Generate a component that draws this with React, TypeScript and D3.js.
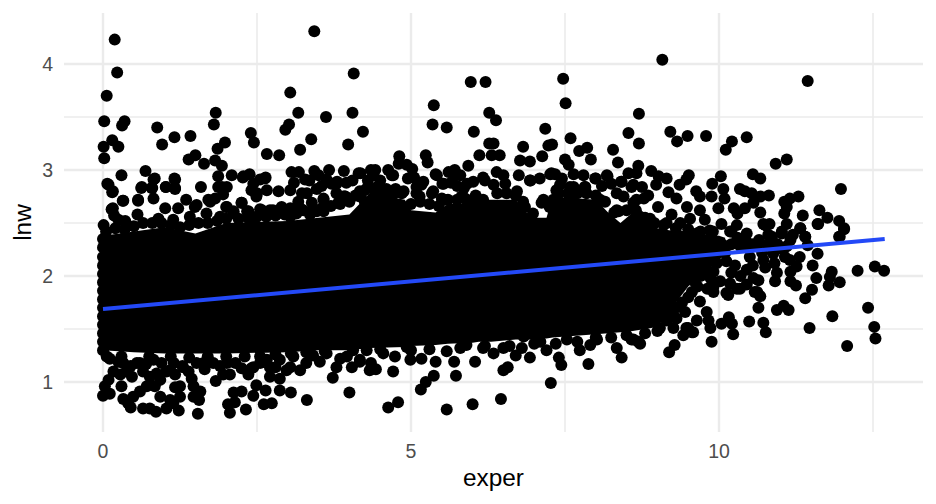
import React from "react";
import * as d3 from "d3";

const W = 936, H = 504;
const xTicks = [0, 5, 10];
const xMinor = [2.5, 7.5, 12.5];
const yTicks = [1, 2, 3, 4];
const yMinor = [1.5, 2.5, 3.5];

const fitX = [0, 12.69];
const fitY = [1.689, 2.349];

// Saturated core of the cloud: individual points cannot be read there
const coreX = [0,.5,1,1.5,2,3,3.5,4,4.33,4.9,5,5.4,5.6,6,6.1,6.3,6.7,6.95,7.2,7.3,8,8.2,8.4,8.6,9,9.5,10,10.1];
const coreTop = [2.38,2.42,2.46,2.4,2.5,2.52,2.55,2.58,2.78,2.72,2.62,2.6,2.68,2.68,2.72,2.72,2.72,2.55,2.55,2.75,2.72,2.6,2.5,2.6,2.45,2.4,2.38,2.36];
const coreBottom = [1.3,1.28,1.27,1.27,1.27,1.28,1.3,1.3,1.32,1.33,1.34,1.35,1.36,1.37,1.38,1.38,1.4,1.4,1.41,1.42,1.45,1.46,1.47,1.48,1.52,1.9,2.15,2.2];

const edgeZero: [number, number][] = [[0,1.3],[0,1.38],[0,1.46],[0,1.54],[0,1.62],[0,1.7],[0,1.78],[0,1.86],[0,1.94],[0,2.02],[0,2.1],[0,2.18],[0,2.27],[0,2.35]];

const coreEdgeTop: [number, number][] = [[.05,2.42],[.2,2.45],[.35,2.44],[.5,2.47],[.65,2.5],[.8,2.5],[.95,2.5],[1.1,2.48],[1.25,2.46],[1.4,2.48],[1.55,2.5],[1.7,2.5],[1.85,2.52],[2,2.54],[2.2,2.54],[2.35,2.55],[2.5,2.56],[2.65,2.56],[2.8,2.57],[2.95,2.58],[3.1,2.6],[3.25,2.62],[3.4,2.62],[3.55,2.64],[3.7,2.66],[3.85,2.68],[4,2.7],[4.1,2.76],[4.3,2.84],[4.45,2.84],[4.6,2.82],[4.75,2.82],[4.85,2.78],[5,2.68],[5.15,2.7],[5.3,2.68],[5.45,2.66],[5.6,2.72],[5.75,2.72],[5.9,2.72],[6.05,2.76],[6.4,2.78],[6.55,2.78],[6.7,2.76],[6.85,2.65],[7.25,2.65],[7.4,2.78],[7.55,2.78],[7.7,2.78],[7.85,2.78],[8,2.76],[8.15,2.7],[8.3,2.6],[8.5,2.62],[8.65,2.62],[8.8,2.55],[8.95,2.5],[9.1,2.48],[9.3,2.45],[9.5,2.44],[9.7,2.42],[9.9,2.42]];

const coreEdgeBottom: [number, number][] = [[.3,1.24],[.75,1.24],[1.1,1.24],[1.4,1.23],[1.7,1.24],[2,1.24],[2.3,1.24],[2.55,1.24],[2.8,1.26],[3.05,1.27],[3.3,1.28],[3.6,1.29],[4.5,1.31],[5,1.3],[5.3,1.31],[5.8,1.32],[6.2,1.34],[6.6,1.34],[7,1.36],[7.35,1.36],[7.7,1.38],[8,1.42],[8.25,1.42],[8.5,1.44],[8.8,1.46],[9,1.48]];

const upperLeft: [number, number][] = [[.19,4.23],[.23,3.92],[.06,3.7],[.02,3.46],[.35,3.46],[.31,3.42],[.88,3.4],[1.16,3.31],[1.42,3.32],[.96,3.24],[.15,3.28],[.01,3.22],[.25,3.22],[.02,3.11],[1.83,3.54],[1.8,3.43],[1.98,3.26],[1.86,3.2],[1.5,3.14],[1.39,3.1],[1.64,3.06],[1.82,3.09],[1.93,3.04],[2.4,3.35],[2.45,3.26],[2.66,3.15],[2.86,3.14],[3.43,4.31],[3.04,3.73],[3.17,3.54],[3.02,3.43],[2.96,3.38],[3.62,3.5],[3.38,3.29],[3.2,3.19],[4.07,3.91],[4.05,3.54],[3.98,3.24],[4.22,3.36],
[.3,2.95],[.69,2.99],[.07,2.87],[.15,2.79],[.84,2.92],[.62,2.83],[.79,2.83],[.82,2.73],[1.16,2.92],[1.02,2.84],[1.17,2.82],[1.59,2.84],[.57,2.71],[.32,2.71],[.14,2.63],[.56,2.58],[.18,2.57],[.36,2.52],[.01,2.48],[1.01,2.64],[1.22,2.64],[1.35,2.72],[1.49,2.65],[1.74,2.7],[1.87,2.94],[2.09,2.95],[2.27,2.93],[2.38,2.96],[2.64,2.93],[2.55,2.91],[1.87,2.84],[2.01,2.84],[1.95,2.77],[2.41,2.81],[2.49,2.75],[2.66,2.81],[2.85,2.8],[3.04,2.81],[2.25,2.69],[2,2.65],[2.12,2.61],[2.34,2.61],[2.55,2.63],[2.71,2.62],[2.87,2.62],[3.06,2.98],[3.18,2.98],[3.43,2.99],[3.5,2.95],[3.67,3],[3.91,2.99],[3.28,2.91],[3.63,2.91],[3.8,2.89],[3.47,2.82],[3.71,2.87],[3.23,2.78],[3.58,2.73],[3.79,2.78],[3.93,2.75],[3.85,2.69],[3.2,2.64],[3.47,2.61],[4.15,2.97],[4.17,2.8]];

const bandLeft: [number, number][] = [[.09,2.86],[.16,2.8],[.33,2.71],[.16,2.64],[.25,2.53],[.57,2.72],[.36,2.51],[.63,2.84],[.82,2.91],[.8,2.83],[1.02,2.84],[1.17,2.91],[1.17,2.83],[.9,2.54],[1.14,2.53],[1.41,2.56],[1.52,2.67],[1.71,2.72],[1.68,2.59],[1.93,2.84],[1.82,2.73],[2.01,2.65],[2.12,2.59],[2.25,2.69],[2.36,2.61],[2.28,2.94],[2.44,2.87],[2.5,2.78],[2.63,2.92],[2.58,2.62],[2.76,2.62],[2.9,2.65],[3.04,2.64],[3.31,2.78],[3.17,2.7],[3.39,2.69],[3.58,2.72],[3.79,2.87],[3.93,2.75],[3.82,2.69],[4.25,2.7],[4.2,2.59],[3.14,2.59],[3.36,2.58],[3.58,2.61],[3.04,2.56],[2.39,2.53],[1.9,2.56],
[3.1,2.88],[3.35,2.9],[3.55,2.85],[3.95,2.88],[4.05,2.9]];

const upperMiddle: [number, number][] = [[4.18,2.97],[4.35,3],[4.42,3],[4.39,2.95],[4.63,3],[4.71,2.95],[4.81,3.13],[4.8,3.06],[4.93,3.05],[5.02,3.01],[5.24,3.14],[5.27,3.07],[5.4,2.96],[5.61,2.98],[5.71,3],[5.8,2.95],[5.93,3.04],[5.97,3.83],[6.21,3.83],[5.37,3.61],[5.35,3.43],[5.58,3.4],[6.02,3.36],[6.27,3.54],[6.38,3.47],[6.27,3.25],[6.34,3.25],[6.11,3.14],[6.31,3.14],[6.44,3.14],[6.39,2.98],[6.17,2.93],[6.01,2.89],[5.86,2.83],[6.82,3.22],[6.77,3.09],[6.93,3.08],[7.13,3.13],[7.18,3.39],[7.23,3.23],[7.29,3.24],[7.47,3.86],[7.51,3.63],[7.59,3.3],[7.5,3.1],[7.56,3.05],[7.73,3.18],[7.86,3.21],[7.92,3.1],[8.28,3.19],[8.36,3.07],[8.53,3.35],[8.7,3.53],[8.7,3.25],[8.69,3.04],
[6.94,2.9],[7.09,2.92],[7.26,2.96],[7.34,2.96],[7.64,2.96],[7.99,2.92],[8.18,2.95],[8.53,2.97],[8.41,2.89],[7.42,2.86],[7.64,2.84],[7.82,2.84],[8.61,2.86],[5.2,2.89],[5.09,2.84],[5.51,2.87],[4.25,2.81],[4.88,2.8],[4.71,2.77],[4.55,2.77],[4.42,2.77],[4.17,2.75],[3.9,2.75],[5.14,2.75],[5.36,2.8],[5.55,2.72],[5.88,2.73],[6.17,2.72],[6.34,2.86],[6.53,2.87],[6.72,2.8],[6.82,2.7],[6.98,2.59],[7.12,2.69],[7.31,2.72],[7.58,2.73],[8.07,2.72],[8.34,2.62],[8.45,2.75],[8.61,2.69]];

const bandMiddle: [number, number][] = [[4.69,2.95],[5.17,2.86],[5.09,2.78],[5.34,2.78],[5.5,2.73],[5.42,2.95],[5.53,2.87],[5.72,2.95],[5.91,2.87],[5.82,2.75],[6.2,2.9],[6.93,2.9],[7.28,2.97],[7.15,2.72],[7.36,2.81],[7.58,2.84],[7.83,2.84],[8,2.92],[8.19,2.94],[8.42,2.89],[8.34,2.78],[8.37,2.61],[8.78,2.73],[8.75,2.84],[6,2.7],
[4.5,2.9],[4.3,2.9],[4.95,2.92],[5.05,2.93],[5.65,2.88],[5.75,2.85],[6.5,2.95],[6.75,2.95],[7.45,2.92],[7.8,2.95],[8.1,2.85],[8.25,2.87]];

const upperRight: [number, number][] = [[9.08,4.04],[11.44,3.84],[9.21,3.36],[9.32,3.27],[9.49,3.32],[9.79,3.32],[10.21,3.27],[10.11,3.19],[10.45,3.31],[11.1,3.1],[10.92,3.06],[8.66,2.97],[8.9,2.99],[9.02,2.94],[9.15,2.92],[8.98,2.86],[9.51,2.95],[9.47,2.91],[9.36,2.86],[9.18,2.79],[9.31,2.73],[9.63,2.8],[9.69,2.75],[9.89,2.87],[10.03,2.94],[10.07,2.82],[10.09,2.73],[9.88,2.75],[9.99,2.64],[10.34,2.82],[10.42,2.8],[10.53,2.78],[10.55,2.96],[10.67,2.92],[10.81,2.76],[10.67,2.75],[10.56,2.69],[10.42,2.64],[10.24,2.64],[10.3,2.59],[10.67,2.6],[11.29,2.75],[11.15,2.73],[11.06,2.7],[11.1,2.65],[11.06,2.59],[11.36,2.57],[11.63,2.62],[11.76,2.55],[11.6,2.49],[11.98,2.82],[11.95,2.52],[12.03,2.45],[11.95,2.37],[10.72,2.49],[10.82,2.49],[11.1,2.49],[11.32,2.45],[10.8,2.39],[11.02,2.42],[11.4,2.37],[11.2,2.39],[8.85,2.76],[8.72,2.56],[9.01,2.65],[8.88,2.54],[9.23,2.58],[9.48,2.65],[9.69,2.62],[9.53,2.54],[9.77,2.53],[9.37,2.5],[9.15,2.5],[10.04,2.49],[10.29,2.48],[10.45,2.4],[10.18,2.42],[9.85,2.43],[9.64,2.4],[9.39,2.37],[8.66,2.72],[8.58,2.84]];

const lowerRight: [number, number][] = [[12.53,2.09],[12.68,2.05],[12.25,2.05],[11.83,2.04],[11.8,1.99],[11.96,1.94],[11.78,1.91],[11.58,1.98],[11.51,1.87],[11.4,1.79],[11.52,2.1],[11.6,2.21],[11.31,2.18],[11.26,2.09],[11.16,2.04],[11.07,2.18],[10.94,2.03],[10.91,1.95],[11.16,1.95],[11.25,1.91],[10.64,1.96],[10.56,1.98],[10.58,1.85],[10.67,1.81],[10.64,1.7],[10.94,1.68],[11.05,1.72],[11.13,1.68],[12.42,1.7],[11.84,1.62],[12.52,1.52],[12.54,1.41],[12.08,1.34],[11.47,1.51],[10.72,1.56],[10.76,1.47],[10.49,1.57],[10.16,1.61],[10.21,1.55],[10.04,1.55],[10.23,1.45],[9.88,1.38],[9.86,1.51],[9.83,1.58],[9.8,1.66],[9.64,1.58],[9.69,1.76],[9.45,1.66],[9.5,1.51],[9.56,1.47],[9.42,1.44],[9.28,1.35],[9.19,1.28],[9.26,1.51],[9.04,1.51],[8.69,1.38],[8.58,1.4],[10.29,1.88],[10.15,1.82],[9.91,1.85],[9.81,1.88],[9.56,1.85],[9.96,2.12],[10.12,2.14],[10.26,2.1],[10.45,2.06],[10.72,2.15],[10.88,2.21],[11.04,2.25],[11.44,2.29],[11.16,2.34],[9.91,2.04],[9.8,2.06],[10.18,1.93],[10.02,1.95],[9.86,1.98],[10.75,2.48],[10.86,2.37],[11.02,2.4],[11.32,2.45],[11.4,2.37],[11.61,2.49],[11.96,2.37],[12.03,2.44],
[10.05,2.3],[10.2,2.3],[10.35,2.28],[10.5,2.28],[10.65,2.28],[10.8,2.3],[10.95,2.3],[11.1,2.28],[10.1,2.22],[10.5,2.18],[10.7,2.22],[10.9,2.12],[11.15,2.15],[10.35,2],[10.55,2.1],[10.2,2.03],[10.75,2.08],[10.45,1.92],[9.6,1.95],[9.7,2],[9.5,1.8],[9.65,1.9],[9.4,1.75],[9.3,1.7],[9.2,1.65],[10.2,2.42],[10.3,2.36],[10.45,2.32],[10.55,2.3],[10.65,2.34]];

const lowerLeft: [number, number][] = [[0,.87],[.11,.89],[.03,.96],[.09,1.02],[.3,.96],[.33,.84],[.41,.8],[.45,.76],[.65,.75],[.76,.75],[.86,.72],[1.03,.75],[1.23,.73],[1.14,.8],[1.54,.7],[1.56,.83],[1.47,.86],[1.58,.91],[.93,.86],[1.09,.83],[1.25,.86],[.49,.86],[.6,.91],[.71,.96],[.84,.96],[1.17,.95],[1.25,.96],[1.47,.96],[1.44,1.03],[1.39,1.1],[1.29,1.15],[1.17,1.07],[1.03,1.1],[.87,1.08],[.76,1.05],[.93,1.02],[.28,1.07],[.47,1.05],[.17,1.1],[.06,1.24],[.25,1.19],[.55,1.18],[.82,1.21],[1.83,1.01],[1.95,1.07],[2.06,1.07],[2.12,.9],[2.25,.91],[2.03,.79],[2.06,.71],[2.14,.81],[2.32,.74],[2.44,.87],[2.49,.97],[2.64,.92],[2.61,.79],[2.74,.8],[2.36,1.07],[2.25,1.13],[2.41,1.13],[2.71,1.05],[2.71,1.14],[2.87,1.03],[2.87,.92],[3.05,.9],[3.31,.83],[2.98,1.11],[3.2,1.11],[3.73,1.04],[4,.9],[4.04,1.14],[3.79,1.14],[1.63,1.18],[2.01,1.18],[2.66,1.21],[2.87,1.21],[3.09,1.24],[3.41,1.25],[3.63,1.27],[3.96,1.24],[4.06,1.3],[3.85,1.22],[4.17,1.19],
[.11,1.22],[.33,1.18],[.6,1.18],[1.09,1.11],[1.3,1.14],[1.52,1.18],[1.79,1.18],[2.44,1.14],[3.04,1.14],[3.52,1.19],
[.45,1.15],[.7,1.17],[.95,1.18],[1.15,1.18],[1.65,1.12],[1.9,1.15],[2.15,1.18],[2.55,1.18],[2.8,1.14],[3.3,1.18],[.38,1.1],[.65,1.1]];

const lowerMiddle: [number, number][] = [[4.17,1.21],[4.35,1.18],[4.33,1.11],[4.43,1.12],[4.71,1.1],[4.63,.76],[4.79,.81],[4.55,1.27],[4.74,1.24],[4.99,1.21],[5.17,1.22],[5.16,.93],[5.24,1],[5.37,1.06],[5.73,1.06],[5.4,1.19],[5.7,1.19],[6.04,1.19],[5.58,.74],[6,.79],[6.46,.84],[6.5,1.11],[6.57,1.14],[6.34,1.27],[6.7,1.25],[6.93,1.23],[7.27,.99],[7.44,1.16],[7.4,1.23],[7.88,1.17],[8.42,1.23],[7.74,1.3],[8.34,1.32],[7.2,1.3],[6.8,1.32],[4.28,1.3],[4.93,1.33],[5.58,1.29],[5.9,1.35],[6.17,1.32],[6.5,1.32],[8.02,1.4],[7.91,1.35],[6.83,1.43],[7.1,1.38],[7.53,1.4],[8.61,1.4],[8.72,1.36],[9.58,1.47],[9.47,1.51],[10.12,1.84],[10.34,1.88],[10.62,1.85],[9.91,1.9],[9.31,1.6],[9.15,1.58]];

const points = [edgeZero, coreEdgeTop, coreEdgeBottom, upperLeft, bandLeft, upperMiddle, bandMiddle, upperRight, lowerRight, lowerLeft, lowerMiddle].flat();

const x = d3.scaleLinear().domain([0, 10]).range([103, 719]);
const y = d3.scaleLinear().domain([1, 4]).range([382, 64]);
const left = 64, right = 923, top = 13, bottom = 432;
const grid = "#ebebeb";
const font = "'Liberation Sans', Arial, sans-serif";

export default function App() {
  const area = d3.area<number>()
    .x((d) => x(d))
    .y0((_, i) => y(coreBottom[i]))
    .y1((_, i) => y(coreTop[i]));
  const fit = d3.line<number>().x((d) => x(d)).y((_, i) => y(fitY[i]));
  return (
    <svg width={W} height={H} style={{ position: "absolute", left: 0, top: 0, background: "#fff" }}>
      {yMinor.map((t) => <line key={t} x1={left} x2={right} y1={y(t)} y2={y(t)} stroke={grid} strokeWidth={1.6} />)}
      {xMinor.map((t) => <line key={t} x1={x(t)} x2={x(t)} y1={top} y2={bottom} stroke={grid} strokeWidth={1.6} />)}
      {yTicks.map((t) => <line key={t} x1={left} x2={right} y1={y(t)} y2={y(t)} stroke={grid} strokeWidth={2.4} />)}
      {xTicks.map((t) => <line key={t} x1={x(t)} x2={x(t)} y1={top} y2={bottom} stroke={grid} strokeWidth={2.4} />)}
      <path d={area(coreX) ?? ""} fill="#000" />
      {points.map((p, i) => <circle key={i} cx={x(p[0])} cy={y(p[1])} r={6} fill="#000" />)}
      <path d={fit(fitX) ?? ""} fill="none" stroke="#2349f7" strokeWidth={4} />
      {xTicks.map((t) => (
        <text key={t} x={x(t)} y={458} textAnchor="middle" fontFamily={font} fontSize={19.5} fill="#4d4d4d">{t}</text>
      ))}
      {yTicks.map((t) => (
        <text key={t} x={53} y={y(t) + 7} textAnchor="end" fontFamily={font} fontSize={19.5} fill="#4d4d4d">{t}</text>
      ))}
      <text x={493.5} y={486} textAnchor="middle" fontFamily={font} fontSize={24.4} fill="#000">exper</text>
      <text transform="translate(30.5,222.5) rotate(-90)" textAnchor="middle" fontFamily={font} fontSize={24.4} fill="#000">lnw</text>
    </svg>
  );
}
